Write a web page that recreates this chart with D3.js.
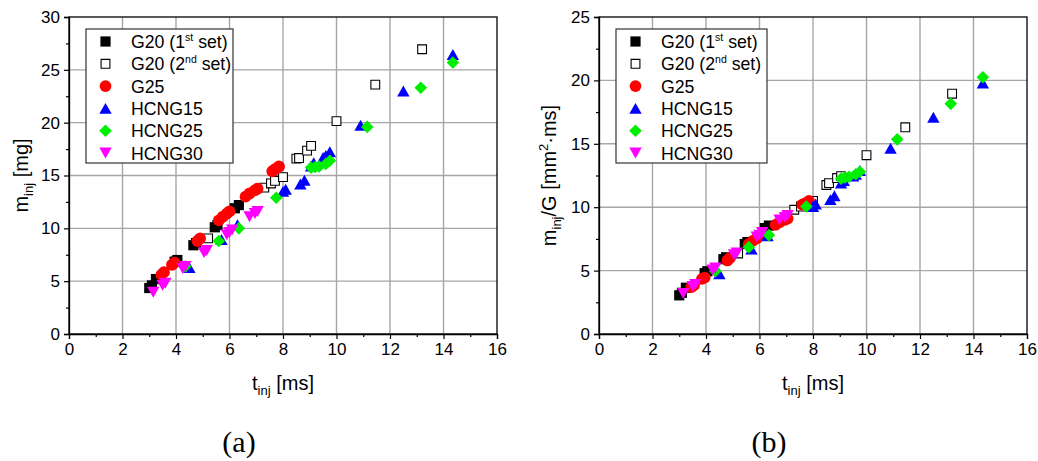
<!DOCTYPE html>
<html><head><meta charset="utf-8">
<script src="https://cdn.jsdelivr.net/npm/d3@7"></script>
<style>body{margin:0;background:#fff}svg{display:block}
text{font-family:"Liberation Sans", Arimo, Arial, Helvetica, sans-serif;}
text.serif{font-family:"Liberation Serif", Tinos, "Times New Roman", Times, serif;}
</style>
</head><body>
<svg id="c" width="1038" height="461"></svg>
<script>
// ---- data ----
const xTicks = [0,2,4,6,8,10,12,14,16];
const yTicksA = [0,5,10,15,20,25,30];
const yTicksB = [0,5,10,15,20,25];

const g20a_t = [3.0,3.1,3.25,3.95,4.05,4.65,4.75,5.45,5.55,6.2,6.35];
const g20a_m = [4.35,4.6,5.2,6.85,7.0,8.4,8.6,10.1,10.3,11.9,12.2];
const g20a_v = [3.05,3.25,3.65,4.8,4.95,5.9,6.05,7.1,7.25,8.35,8.55];

const g20b_t = [5.2,7.3,7.55,7.7,8.0,8.5,8.6,8.9,9.05,10.0,11.45,13.2];
const g20b_m = [9.05,13.85,14.25,14.5,14.85,16.6,16.65,17.35,17.8,20.15,23.6,26.95];
const g20b_v = [6.35,9.8,10.05,10.25,10.5,11.75,11.9,12.3,12.45,14.1,16.3,18.95];

const g25_t = [3.45,3.55,3.85,3.95,4.8,4.9,5.6,5.75,5.9,6.0,6.6,6.75,6.95,7.05,7.6,7.7,7.85];
const g25_m = [5.6,5.85,6.55,6.75,8.8,9.05,10.75,11.1,11.4,11.6,13.0,13.3,13.6,13.75,15.4,15.6,15.85];
const g25_v = [3.7,3.85,4.35,4.45,5.8,6.0,7.1,7.35,7.55,7.7,8.6,8.8,9.0,9.1,10.2,10.3,10.5];

const h15_t = [4.5,5.7,6.3,8.0,8.1,8.65,8.8,9.05,9.15,9.5,9.6,9.75,10.9,12.5,14.35];
const h15_m = [6.3,8.95,10.35,13.5,13.7,14.2,14.55,15.9,16.2,16.7,16.9,17.25,19.75,23.0,26.45];
const h15_v = [4.75,6.7,7.75,10.05,10.25,10.6,10.9,11.9,12.1,12.45,12.6,12.9,14.65,17.1,19.8];

const h25_t = [4.35,5.6,6.35,7.75,9.05,9.2,9.35,9.6,9.75,11.15,13.15,14.35];
const h25_m = [6.4,8.8,10.0,12.9,15.75,15.8,15.85,16.1,16.4,19.6,23.3,25.7];
const h25_v = [4.95,6.85,7.8,10.05,12.25,12.35,12.4,12.6,12.8,15.35,18.15,20.25];

const h30_t = [3.15,3.5,3.6,4.25,4.35,5.05,5.15,5.9,6.0,6.1,6.75,6.95,7.05];
const h30_m = [3.95,4.6,4.8,6.2,6.4,7.7,7.9,9.4,9.6,9.85,11.1,11.4,11.6];
const h30_v = [3.2,3.75,3.9,5.05,5.2,6.25,6.4,7.65,7.8,8.0,9.0,9.2,9.35];

const seriesNames = ["G20 (1st set)","G20 (2nd set)","G25","HCNG15","HCNG25","HCNG30"];

// ---- styles ----
const styles = [
  {shape:"square", fill:"#000", stroke:"none", h:5.1},
  {shape:"square", fill:"#fff", stroke:"#000", h:4.4},
  {shape:"circle", fill:"#ff0000", stroke:"none", h:5.9},
  {shape:"tri", fill:"#0000ff", stroke:"none", h:6.2},
  {shape:"diamond", fill:"#00ee00", stroke:"none", h:6.3},
  {shape:"tridown", fill:"#ff00ff", stroke:"none", h:6.2}
];
function shapePath(s){
  const h=s.h;
  if(s.shape==="square") return `M${-h},${-h}H${h}V${h}H${-h}Z`;
  if(s.shape==="circle") return `M${h},0A${h},${h} 0 1,1 ${-h},0A${h},${h} 0 1,1 ${h},0Z`;
  if(s.shape==="diamond") return `M0,${-h}L${h},0L0,${h}L${-h},0Z`;
  const hh=h*0.88;
  if(s.shape==="tri") return `M0,${-hh}L${h},${hh}L${-h},${hh}Z`;
  return `M0,${hh}L${h},${-hh}L${-h},${-hh}Z`;
}

const svg = d3.select("#c");

function panel(ox, yMax, yTicks, ys, ylabel, tag, legW, ylOff){
  const L=ox, R=ox+428, T=17, B=334;
  const x = d3.scaleLinear().domain([0,16]).range([L,R]);
  const y = d3.scaleLinear().domain([0,yMax]).range([B,T]);
  const g = svg.append("g");
  // grid
  g.selectAll(".gx").data(xTicks.slice(1,-1)).enter().append("line")
    .attr("x1",d=>x(d)).attr("x2",d=>x(d)).attr("y1",T).attr("y2",B)
    .attr("stroke","#a6a6a6").attr("stroke-width",1.4);
  g.selectAll(".gy").data(yTicks.slice(1,-1)).enter().append("line")
    .attr("y1",d=>y(d)).attr("y2",d=>y(d)).attr("x1",L).attr("x2",R)
    .attr("stroke","#a6a6a6").attr("stroke-width",1.4);
  // axes
  const xMinor = d3.range(1,16,2);
  const yStep = yTicks[1]-yTicks[0];
  const yMinor = d3.range(yStep/2, yMax, yStep);
  g.append("g").attr("transform",`translate(0,${B})`)
    .call(d3.axisBottom(x).tickValues(xTicks).tickSize(5).tickPadding(4));
  g.append("g").attr("transform",`translate(0,${B})`)
    .call(d3.axisBottom(x).tickValues(xMinor).tickSize(3).tickFormat(""))
    .select(".domain").remove();
  g.append("g").attr("transform",`translate(${L},0)`)
    .call(d3.axisLeft(y).tickValues(yTicks).tickSize(5).tickPadding(4));
  g.append("g").attr("transform",`translate(${L},0)`)
    .call(d3.axisLeft(y).tickValues(yMinor).tickSize(3).tickFormat(""))
    .select(".domain").remove();
  g.selectAll("g").attr("font-family",null);
  g.selectAll(".tick text").attr("font-size",17).attr("fill","#000");
  g.selectAll(".tick line").attr("stroke","#000").attr("stroke-width",1.2);
  g.selectAll(".domain").attr("stroke","#000").attr("stroke-width",1.3);
  // frame
  g.append("rect").attr("x",L).attr("y",T).attr("width",R-L).attr("height",B-T)
    .attr("fill","none").attr("stroke","#000").attr("stroke-width",1.3);
  // data
  const ts = [g20a_t,g20b_t,g25_t,h15_t,h25_t,h30_t];
  ts.forEach((tArr,i)=>{
    const st = styles[i];
    g.append("g").selectAll("path").data(tArr.map((t,j)=>[t,ys[i][j]])).enter().append("path")
      .attr("transform",d=>`translate(${x(d[0])},${y(d[1])})`)
      .attr("d",shapePath(st)).attr("fill",st.fill)
      .attr("stroke",st.stroke).attr("stroke-width",1.1);
  });
  // legend
  const lx=L+17, ly=29;
  g.append("rect").attr("x",lx).attr("y",ly).attr("width",legW).attr("height",134)
    .attr("fill","#fff").attr("stroke","#333").attr("stroke-width",1.2);
  seriesNames.forEach((n,i)=>{
    const cy = ly+12.5+i*22.3;
    g.append("path").attr("transform",`translate(${lx+19.5},${cy})`).attr("d",shapePath(styles[i]))
      .attr("fill",styles[i].fill).attr("stroke",styles[i].stroke).attr("stroke-width",1.1);
    const tx = g.append("text").attr("x",lx+45).attr("y",cy+6.5)
      .attr("font-size",17.7).attr("fill","#000");
    const m = n.match(/^G20 \((\d)(st|nd) set\)$/);
    if(m){
      tx.append("tspan").text(`G20 (${m[1]}`);
      tx.append("tspan").attr("dy",-7.5).attr("font-size",10.5).text(m[2]);
      tx.append("tspan").attr("dy",7.5).text(" set)");
    } else tx.text(n);
  });
  // x label
  const xl = g.append("text").attr("x",(L+R)/2).attr("y",390).attr("text-anchor","middle")
    .attr("font-size",20);
  xl.append("tspan").text("t");
  xl.append("tspan").attr("dy",5).attr("font-size",13).text("inj");
  xl.append("tspan").attr("dy",-5).text(" [ms]");
  // y label
  const yl = g.append("text").attr("transform",`translate(${L-ylOff},${(T+B)/2}) rotate(-90)`)
    .attr("text-anchor","middle").attr("font-size",20);
  ylabel(yl);
  // tag
  g.append("text").attr("class","serif").attr("x",(L+R)/2-44).attr("y",452).attr("text-anchor","middle")
    .attr("font-size",30).text(tag);
}

panel(69, 30, yTicksA, [g20a_m,g20b_m,g25_m,h15_m,h25_m,h30_m], yl=>{
  yl.append("tspan").text("m");
  yl.append("tspan").attr("dy",5).attr("font-size",13).text("inj");
  yl.append("tspan").attr("dy",-5).text(" [mg]");
}, "(a)", 147, 41);
panel(599, 25, yTicksB, [g20a_v,g20b_v,g25_v,h15_v,h25_v,h30_v], yl=>{
  yl.append("tspan").text("m");
  yl.append("tspan").attr("dy",5).attr("font-size",13).text("inj");
  yl.append("tspan").attr("dy",-5).text("/G [mm");
  yl.append("tspan").attr("dy",-8).attr("font-size",13).text("2");
  yl.append("tspan").attr("dy",8).text("·ms]");
}, "(b)", 151, 43);
</script>
</body></html>
